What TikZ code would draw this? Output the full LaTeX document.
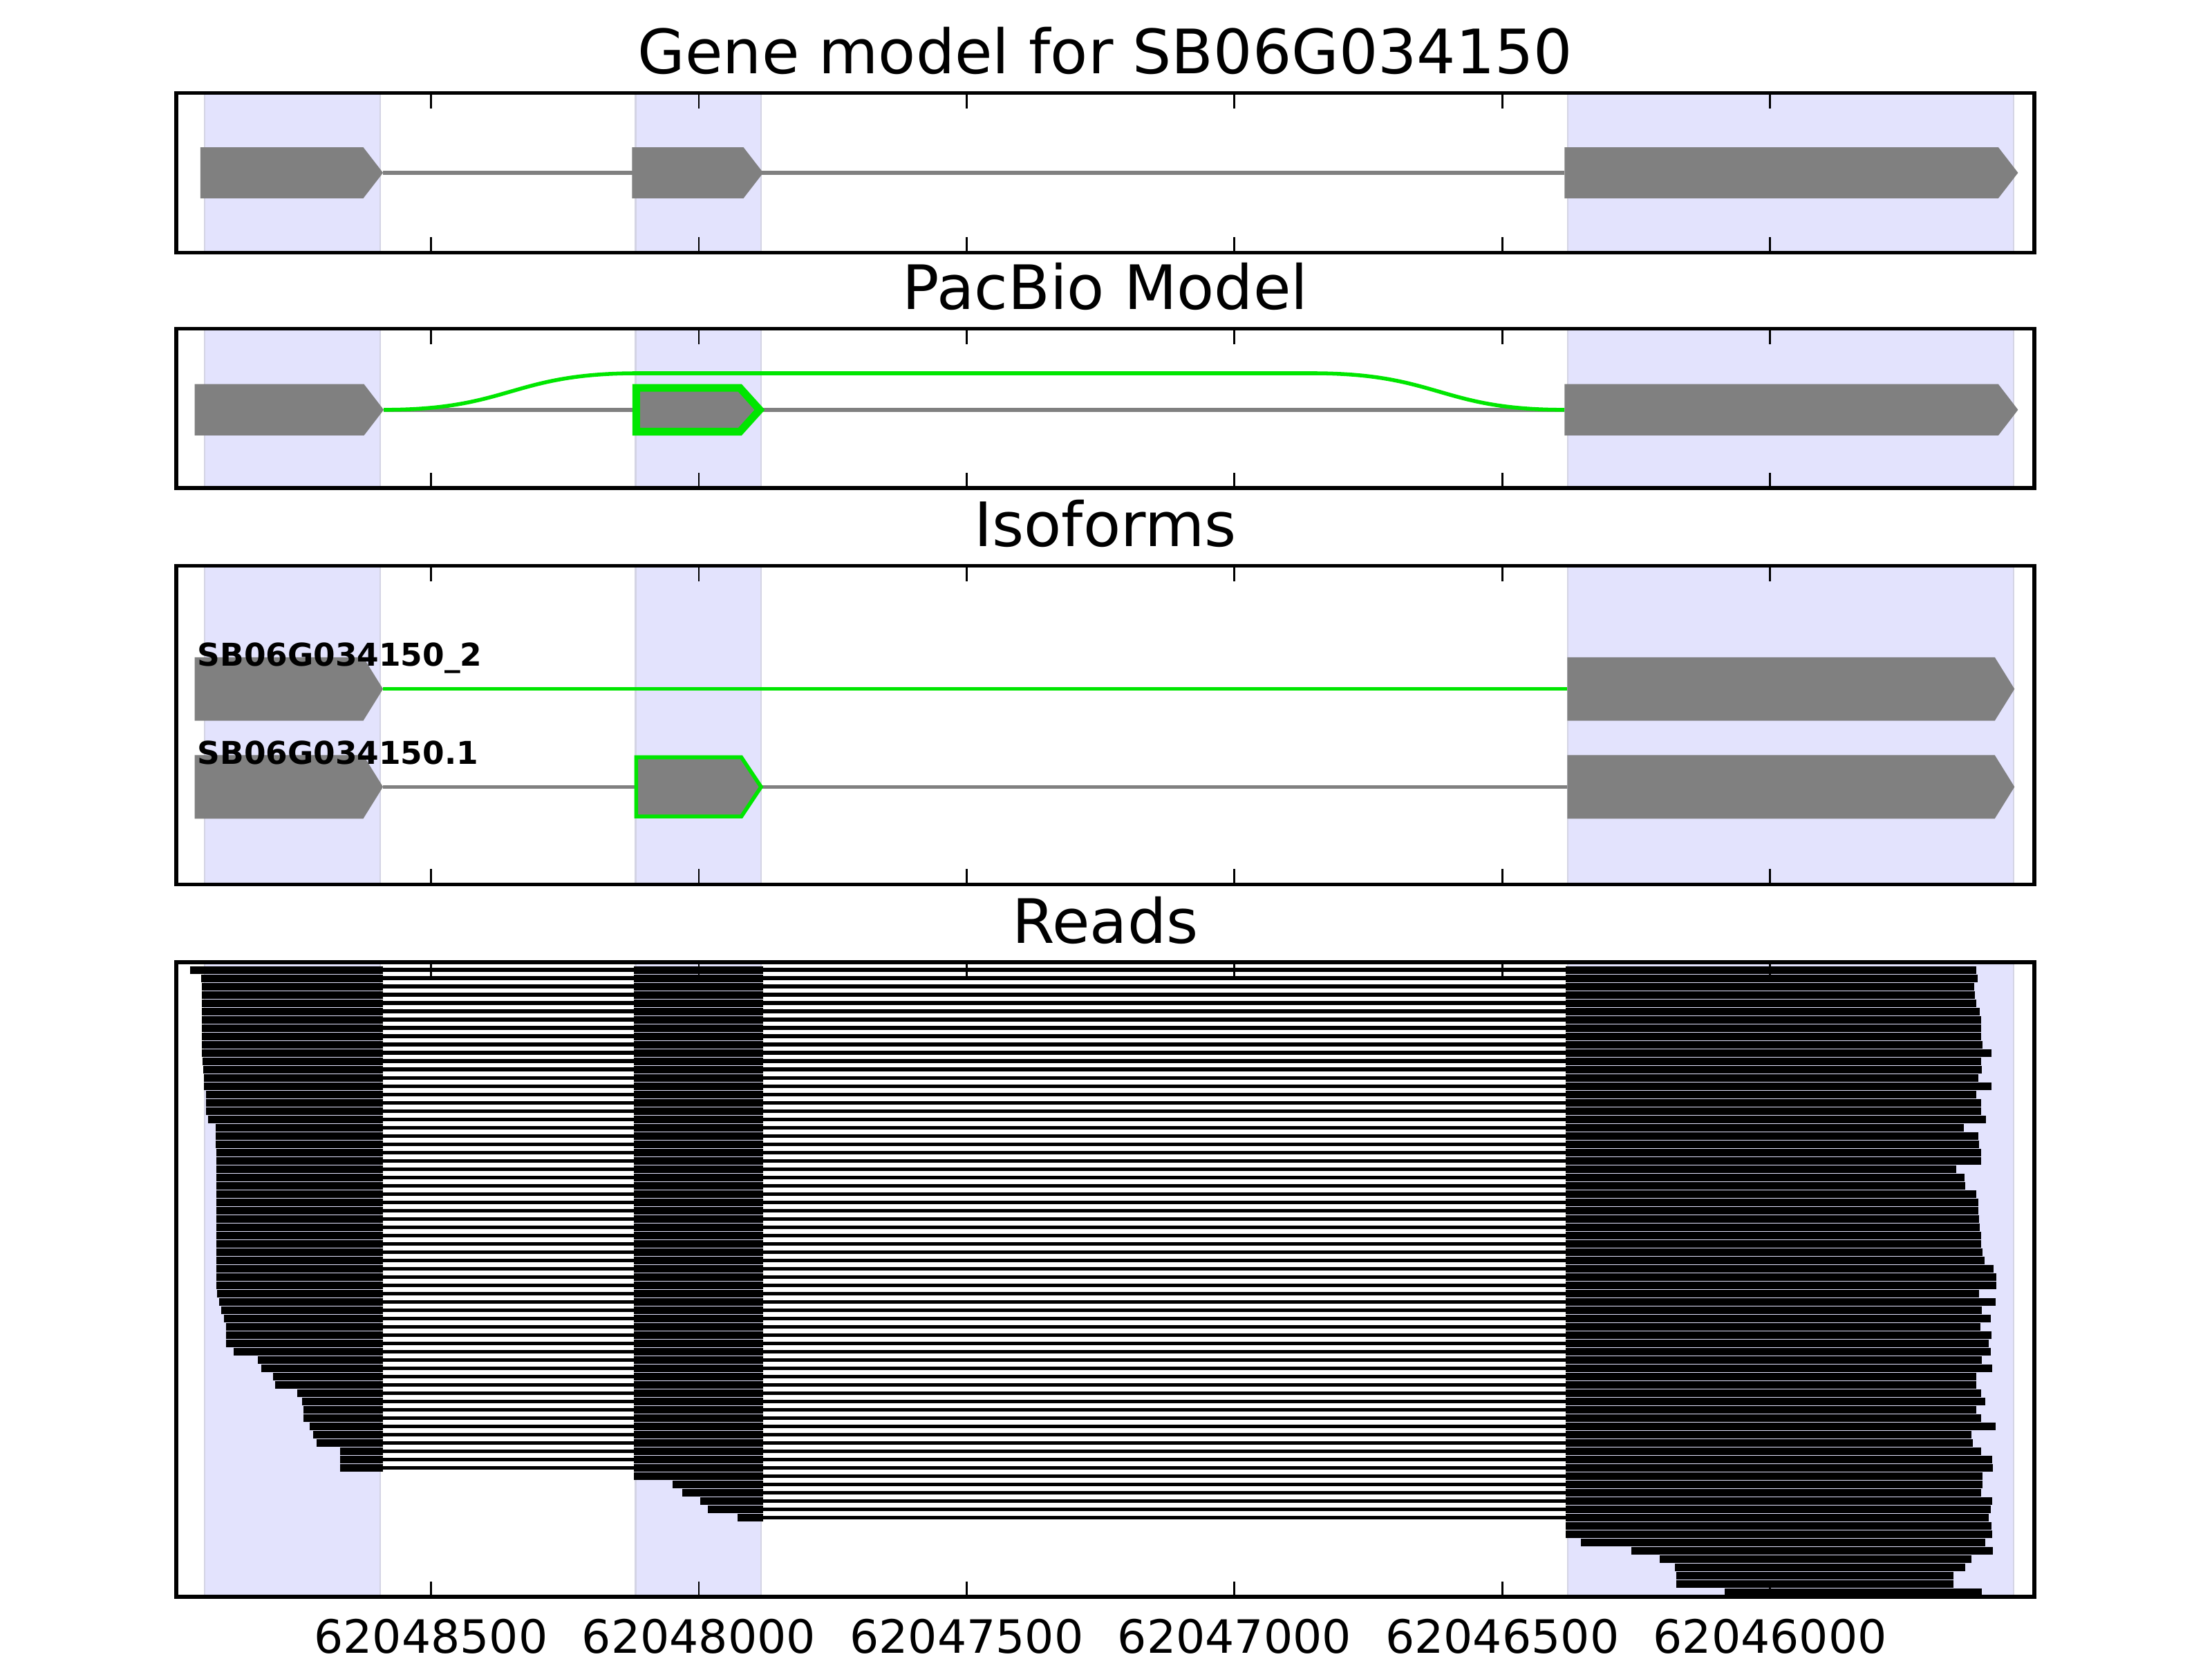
\documentclass[tikz,border=0pt]{standalone}
\usepackage{fontspec}
\setmainfont{DejaVu Sans}
\definecolor{spanblue}{RGB}{227,227,253}
\definecolor{spanedge}{RGB}{212,212,228}
\definecolor{isogreen}{RGB}{0,230,0}
\definecolor{exongray}{RGB}{128,128,128}
\newcommand{\exonarrow}[5][exon]{\path[#1] (#2,#4-#5) -- (#3-14,#4-#5) -- (#3,#4) -- (#3-14,#4+#5) -- (#2,#4+#5) -- cycle;}

\begin{document}
\begin{tikzpicture}[x=0.012959cm,y=-0.012959cm,
  frame/.style={draw=black,line width=1pt},
  tick/.style={draw=black,line width=0.5pt},
  span/.style={fill=spanblue,draw=spanedge,line width=0.4pt},
  exon/.style={fill=exongray},
  greenexon/.style={fill=exongray,draw=isogreen},
  intron/.style={draw=exongray,line width=1pt},
  junction/.style={draw=isogreen,line width=1pt},
  ttl/.style={font=\fontsize{16}{19}\selectfont,anchor=base,inner sep=0pt},
  ticklbl/.style={font=\fontsize{12}{14}\selectfont,anchor=base,inner sep=0pt},
  isolbl/.style={font=\fontsize{8.2}{10}\selectfont\bfseries,anchor=base west,inner sep=0pt},
  readbar/.style={fill=black,draw=black,line width=0.25pt},
  readgap/.style={draw=black,line width=1pt}]
\useasboundingbox (0,0) rectangle (1568,1176);

\foreach \top/\bot in {66/179,233/346,401/627,682/1132}
  \foreach \a/\b in {145/269.5,450.5/539.5,1111.3/1427.5}
    \path[span] (\a,\top) rectangle (\b,\bot);

\draw[intron] (271.5,122.5) -- (1109,122.5);
\exonarrow{142}{271.5}{122.5}{18.1}
\exonarrow{448}{541}{122.5}{18.1}
\exonarrow{1109}{1430.5}{122.5}{18.1}

\draw[intron] (272,290.5) -- (1109,290.5);
\draw[junction] (272,290.5) .. controls (362,290.5) and (362,264.6) .. (452,264.6) -- (930,264.6) .. controls (1020,264.6) and (1020,290.5) .. (1109,290.5);
\exonarrow{138}{272}{290.5}{18.2}
\exonarrow[greenexon,line width=2pt]{451}{538.5}{290.5}{15.5}
\exonarrow{1109}{1430.5}{290.5}{18.2}

\draw[junction] (271.5,488.4) -- (1111,488.4);
\exonarrow{138}{271.5}{488.4}{22.5}
\exonarrow{1111}{1428}{488.4}{22.5}
\node[isolbl] (lbliso2) at (139.5,472) {SB06G034150\_2};
\draw[intron] (271.5,557.8) -- (1111,557.8);
\exonarrow{138}{271.5}{557.8}{22.5}
\exonarrow[greenexon,line width=1pt]{451}{539.5}{557.8}{21}
\exonarrow{1111}{1428}{557.8}{22.5}
\node[isolbl] (lbliso1) at (139.5,541.5) {SB06G034150.1};

\foreach \s/\e [count=\i from 0] in {135.0/1400.5,142.9/1401.5,143.5/1399.3,143.5/1399.5,143.5/1400.5,143.5/1402.8,143.5/1403.8,143.5/1403.8,143.5/1404,143.5/1404.8,143.5/1411.3,143.8/1403.8,144.3/1404.3,144.9/1402,144.9/1411.3,146.3/1400.5,146.3/1403.8,146.3/1404,147.7/1407.3,153.0/1391.5,153.0/1402,153.0/1402.5,153.6/1403.8,153.6/1404,153.6/1386.3,153.6/1392,153.6/1392.5,153.6/1400.5,153.6/1402,153.6/1402,153.6/1402.5,153.6/1403,153.6/1403.8,153.6/1404,153.6/1404.8,153.6/1406.3,153.6/1412.8,153.6/1415,153.6/1415,154.2/1402.3,155.6/1414.3,157.0/1404.5,159.2/1410.8,160.4/1403.3,160.4/1411.3,160.4/1409.5,166.0/1410.8,183.1/1404.5,185.4/1411.8,193.8/1400.5,195.2/1400.5,211.0/1403.8,214.4/1406.8,215.5/1400.5,215.5/1404,219.7/1414.3,222.2/1397.3,224.8/1398,241.4/1404,241.4/1411.8,241.4/1412.3}{
  \pgfmathsetmacro{\ry}{687.6+5.88*\i}
  \draw[readgap] (\s,\ry) -- (\e,\ry);
  \path[readbar] (\s,\ry-2.3) rectangle (270.9,\ry+2.3);
  \path[readbar] (449.5,\ry-2.3) rectangle (540.4,\ry+2.3);
  \path[readbar] (1110,\ry-2.3) rectangle (\e,\ry+2.3);
}
\foreach \s/\e [count=\i from 61] in {449.5/1404.8,477.1/1404.8,484.1/1404,496.8/1411.8,501.9/1411,523.0/1409.5}{
  \pgfmathsetmacro{\ry}{687.6+5.88*\i}
  \draw[readgap] (\s,\ry) -- (\e,\ry);
  \path[readbar] (\s,\ry-2.3) rectangle (540.4,\ry+2.3);
  \path[readbar] (1110,\ry-2.3) rectangle (\e,\ry+2.3);
}
\foreach \s/\e [count=\i from 67] in {1110/1411.3,1110/1411.8,1121/1406.8,1156.5/1412.3,1177/1397.3,1187.8/1392.5,1188.8/1384.5,1188.8/1384.5,1223/1404.5}{
  \pgfmathsetmacro{\ry}{687.6+5.88*\i}
  \path[readbar] (\s,\ry-2.3) rectangle (\e,\ry+2.3);
}

\foreach \top/\bot in {66/179,233/346,401/627,682/1132}{
  \draw[frame] (125,\top) rectangle (1442,\bot);
  \foreach \k in {0,...,5}
    \draw[tick] (305.5+189.85*\k,\top) -- ++(0,10.9) (305.5+189.85*\k,\bot) -- ++(0,-10.9);
}

\node[ttl] (ttlgene) at (783.5,52.4) {Gene model for SB06G034150};
\node[ttl] (ttlpacbio) at (783.5,219.4) {PacBio Model};
\node[ttl] (ttliso) at (783.5,387.4) {Isoforms};
\node[ttl] (ttlreads) at (783.5,668.4) {Reads};
\foreach \lbl [count=\k from 0] in {62048500,62048000,62047500,62047000,62046500,62046000}
  \node[ticklbl] (ticklbl\k) at (305.5+189.85*\k,1172) {\lbl};
\end{tikzpicture}
\end{document}
